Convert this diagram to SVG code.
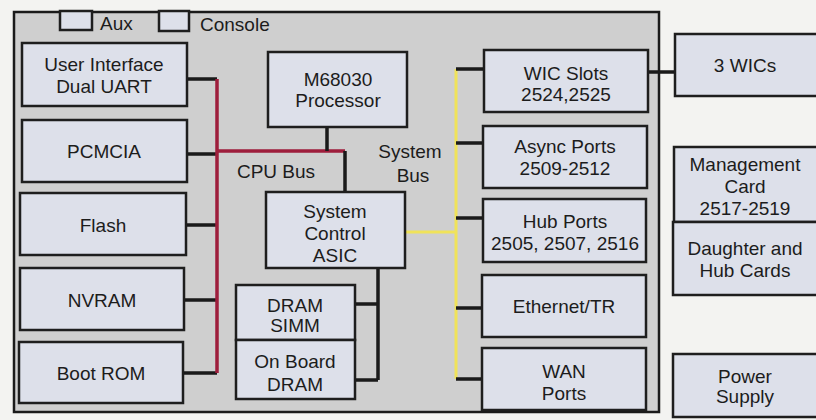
<svg xmlns="http://www.w3.org/2000/svg" width="816" height="420" viewBox="0 0 816 420">
<style>
.bg{fill:#f3f3f1}
.board{fill:#cfcfcf;stroke:#1a1a1a;stroke-width:2.5}
.box{fill:#dde0ea;stroke:#1e1e1e;stroke-width:2.5}
.t{font-family:"Liberation Sans",Arial,sans-serif;font-size:19px;fill:#1c1c1c;text-anchor:middle}
.tl{font-family:"Liberation Sans",Arial,sans-serif;font-size:19px;fill:#1c1c1c}
.k{stroke:#1a1a1a;stroke-width:3.5;fill:none}
.r{stroke:#9e1e3c;stroke-width:3.5;fill:none}
.y{stroke:#f0e35a;stroke-width:3;fill:none}
</style>
<rect class="bg" x="0" y="0" width="816" height="420"/>
<rect class="board" x="14" y="12" width="645" height="400"/>
<g id="aux"><rect class="box" x="60" y="11" width="32" height="19"/><text class="tl" x="100" y="30">Aux</text></g>
<g id="console"><rect class="box" x="159" y="11" width="30" height="20"/><text class="tl" x="200" y="31">Console</text></g>
<g id="connectors">
<path class="k" d="M187 79H217M187 154H217M186 225H217M184 300H217M183 373H217"/>
<path class="r" d="M217 79V373M217 151H345"/>
<path class="k" d="M327 127V151M345 151V192"/>
<path class="k" d="M378 268V380M355 304H378M355 380H378"/>
<path class="y" d="M405 232H456M456 69V379"/>
<path class="k" d="M456 69H484M456 143H484M456 218H484M456 308H482M456 379H482M648 72H675"/>
</g>
<g id="ui"><rect class="box" x="22" y="43" width="165" height="63"/><text class="t" x="104" y="71">User Interface</text><text class="t" x="104" y="93">Dual UART</text></g>
<g id="pcmcia"><rect class="box" x="22" y="120" width="165" height="62"/><text class="t" x="104" y="158">PCMCIA</text></g>
<g id="flash"><rect class="box" x="20" y="193" width="166" height="62"/><text class="t" x="103" y="232">Flash</text></g>
<g id="nvram"><rect class="box" x="20" y="268" width="164" height="62"/><text class="t" x="102" y="307">NVRAM</text></g>
<g id="bootrom"><rect class="box" x="19" y="342" width="164" height="61"/><text class="t" x="101" y="380">Boot ROM</text></g>
<g id="cpu"><rect class="box" x="268" y="52" width="139" height="75"/><text class="t" x="338" y="86">M68030</text><text class="t" x="338" y="107">Processor</text></g>
<text class="t" x="276" y="178">CPU Bus</text>
<text class="t" x="410" y="158">System</text>
<text class="t" x="413" y="182">Bus</text>
<g id="asic"><rect class="box" x="266" y="192" width="139" height="76"/><text class="t" x="335" y="218">System</text><text class="t" x="335" y="240">Control</text><text class="t" x="335" y="262">ASIC</text></g>
<g id="simm"><rect class="box" x="236" y="285" width="119" height="55"/><text class="t" x="295" y="312">DRAM</text><text class="t" x="295" y="332">SIMM</text></g>
<g id="onboard"><rect class="box" x="236" y="340" width="119" height="59"/><text class="t" x="295" y="368">On Board</text><text class="t" x="295" y="391">DRAM</text></g>
<g id="wic"><rect class="box" x="484" y="50" width="164" height="62"/><text class="t" x="566" y="80">WIC Slots</text><text class="t" x="566" y="101">2524,2525</text></g>
<g id="async"><rect class="box" x="483" y="126" width="164" height="62"/><text class="t" x="565" y="153">Async Ports</text><text class="t" x="565" y="175">2509-2512</text></g>
<g id="hub"><rect class="box" x="483" y="199" width="163" height="63"/><text class="t" x="565" y="228">Hub Ports</text><text class="t" x="565" y="250">2505, 2507, 2516</text></g>
<g id="eth"><rect class="box" x="482" y="275" width="164" height="62"/><text class="t" x="564" y="313">Ethernet/TR</text></g>
<g id="wan"><rect class="box" x="482" y="348" width="164" height="62"/><text class="t" x="564" y="378">WAN</text><text class="t" x="564" y="400">Ports</text></g>
<g id="wics3"><rect class="box" x="675" y="34" width="150" height="62"/><text class="t" x="745" y="72">3 WICs</text></g>
<g id="mgmt"><rect class="box" x="674" y="147" width="150" height="75"/><text class="t" x="745" y="171">Management</text><text class="t" x="745" y="193">Card</text><text class="t" x="745" y="215">2517-2519</text></g>
<g id="daughter"><rect class="box" x="673" y="222" width="151" height="73"/><text class="t" x="745" y="255">Daughter and</text><text class="t" x="745" y="277">Hub Cards</text></g>
<g id="power"><rect class="box" x="673" y="354" width="151" height="63"/><text class="t" x="745" y="383">Power</text><text class="t" x="745" y="403">Supply</text></g>
</svg>
